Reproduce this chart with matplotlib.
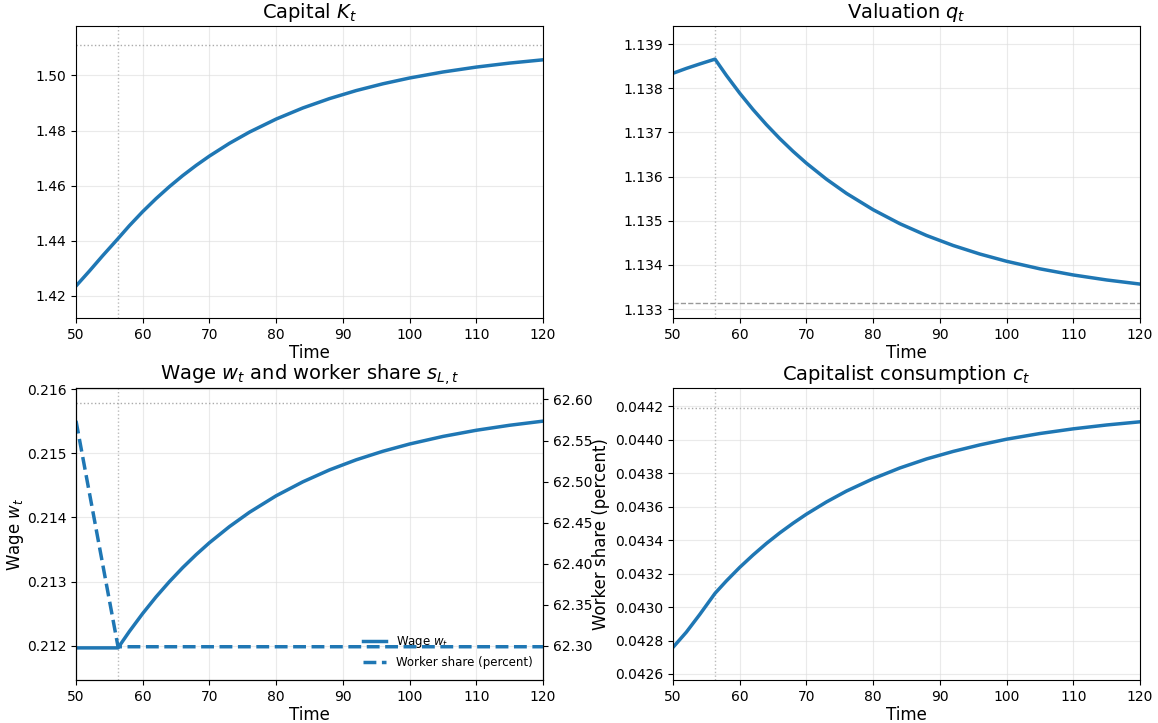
import matplotlib
matplotlib.use("Agg")
import matplotlib.pyplot as plt
from matplotlib.ticker import FormatStrFormatter, MultipleLocator

# ---- data ----
time = [50, 52, 54, 56.3, 58, 60, 62, 64, 66, 68, 70, 73, 76, 80, 84, 88, 92, 96,
        100, 105, 110, 115, 120]
capital = [1.4236, 1.4290, 1.4346, 1.4408, 1.44548, 1.45059, 1.45530, 1.45964,
           1.46365, 1.46733, 1.47073, 1.47535, 1.47943, 1.48415, 1.48817, 1.49157,
           1.49448, 1.49694, 1.49904, 1.50122, 1.50300, 1.50445, 1.50564]
valuation = [1.13834, 1.13845, 1.13855, 1.13866, 1.138292, 1.137889, 1.137518,
             1.137177, 1.136862, 1.136572, 1.136304, 1.135942, 1.135621, 1.135251,
             1.134935, 1.134668, 1.134441, 1.134248, 1.134084, 1.133913, 1.133774,
             1.133661, 1.133568]
wage = [0.21197, 0.21197, 0.21197, 0.21197, 0.212226, 0.212506, 0.212764, 0.213001,
        0.213220, 0.213421, 0.213607, 0.213858, 0.214081, 0.214338, 0.214555,
        0.214741, 0.214898, 0.215031, 0.215144, 0.215262, 0.215358, 0.215436,
        0.215500]
consumption = [0.042759, 0.042850, 0.042955, 0.043082, 0.043156, 0.043237, 0.043311,
               0.043380, 0.043443, 0.043501, 0.043555, 0.043628, 0.043693, 0.043767,
               0.043831, 0.043885, 0.043930, 0.043969, 0.044003, 0.044037, 0.044065,
               0.044088, 0.044107]
share_time = [50, 56.3, 120]
worker_share = [62.574, 62.299, 62.299]

shock_time = 56.3
ss_capital = 1.5109
ss_valuation = 1.13315
ss_wage = 0.21578
ss_consumption = 0.04419

blue = "#1f77b4"
lw = 2.5

fig = plt.figure(figsize=(11.58, 7.23), dpi=100)
W, H = 1158, 723

def make_ax(l, t, r, b):
    return fig.add_axes([l / W, 1 - b / H, (r - l) / W, (b - t) / H])

ax1 = make_ax(76, 26, 543, 318)
ax2 = make_ax(673, 26, 1140, 318)
ax3 = make_ax(76, 388, 543, 680)
ax4 = make_ax(673, 388, 1140, 680)

for ax in (ax1, ax2, ax3, ax4):
    ax.set_xlim(50, 120)
    ax.xaxis.set_major_locator(MultipleLocator(10))
    ax.grid(True, color="#dddddd", alpha=0.6, linewidth=0.8)
    ax.set_xlabel("Time", fontsize=12, labelpad=2)
    ax.tick_params(labelsize=10)
    ax.axvline(shock_time, color="#bbbbbb", linestyle=":", linewidth=1.0)

# Capital
ax1.plot(time, capital, color=blue, lw=lw)
ax1.axhline(ss_capital, color="#aaaaaa", linestyle=":", linewidth=1.0)
ax1.set_ylim(1.4120, 1.5179)
ax1.yaxis.set_major_locator(MultipleLocator(0.02))
ax1.yaxis.set_major_formatter(FormatStrFormatter("%.2f"))
ax1.set_title("Capital $K_t$", fontsize=14)

# Valuation
ax2.plot(time, valuation, color=blue, lw=lw)
ax2.axhline(ss_valuation, color="#999999", linestyle="--", linewidth=1.0)
ax2.set_ylim(1.13280, 1.13941)
ax2.yaxis.set_major_locator(MultipleLocator(0.001))
ax2.yaxis.set_major_formatter(FormatStrFormatter("%.3f"))
ax2.set_title("Valuation $q_t$", fontsize=14)

# Wage and worker share
l1, = ax3.plot(time, wage, color=blue, lw=lw, label="Wage $w_t$")
ax3.axhline(ss_wage, color="#aaaaaa", linestyle=":", linewidth=1.0)
ax3.set_ylim(0.21147, 0.216016)
ax3.yaxis.set_major_locator(MultipleLocator(0.001))
ax3.yaxis.set_major_formatter(FormatStrFormatter("%.3f"))
ax3.set_ylabel("Wage $w_t$", fontsize=12)
ax3.yaxis.set_label_coords(-0.108, 0.5)
ax3.set_title("Wage $w_t$ and worker share $s_{L,t}$", fontsize=14)
ax3r = ax3.twinx()
l2, = ax3r.plot(share_time, worker_share, color=blue, lw=lw, linestyle="--",
                label="Worker share (percent)")
ax3r.set_ylim(62.2585, 62.614)
ax3r.yaxis.set_major_locator(MultipleLocator(0.05))
ax3r.yaxis.set_major_formatter(FormatStrFormatter("%.2f"))
ax3r.set_ylabel("Worker share (percent)", fontsize=12)
ax3r.yaxis.set_label_coords(1.104, 0.5)
ax3r.tick_params(labelsize=10)
ax3.legend([l1, l2], [l1.get_label(), l2.get_label()], loc="lower right",
           frameon=False, fontsize=8.5)

# Consumption
ax4.plot(time, consumption, color=blue, lw=lw)
ax4.axhline(ss_consumption, color="#aaaaaa", linestyle=":", linewidth=1.0)
ax4.set_ylim(0.042564, 0.044309)
ax4.yaxis.set_major_locator(MultipleLocator(0.0002))
ax4.yaxis.set_major_formatter(FormatStrFormatter("%.4f"))
ax4.set_title("Capitalist consumption $c_t$", fontsize=14)

fig.savefig("out.png", dpi=100)
